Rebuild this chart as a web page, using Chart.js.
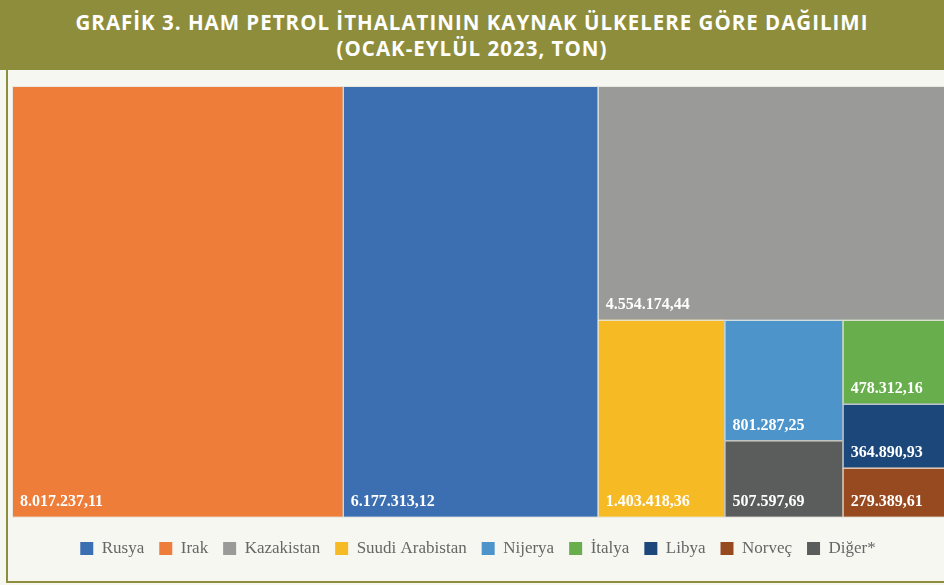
<!DOCTYPE html>
<html>
<head>
<meta charset="utf-8">
<script src="https://cdn.jsdelivr.net/npm/chart.js@4.4.0/dist/chart.umd.min.js"></script>
<style>
    html, body { margin: 0; padding: 0; background: #f7f7f2; }
    #title {
        position: absolute; left: 0; top: 0; width: 944px; height: 70px;
        background: #8e8d3b; color: #fff; text-align: center;
        font-family: "Open Sans", sans-serif; font-weight: 700; font-size: 20.5px;
        letter-spacing: 1px; line-height: 26px; padding-top: 9px; box-sizing: border-box;
    }
    #frame {
        position: absolute; left: 6px; top: 70px; width: 938px; height: 513px;
        border-left: 2px solid #8e8d3b; border-bottom: 2px solid #8e8d3b;
        box-sizing: border-box;
    }
    #wrap { position: absolute; left: 0; top: 0; width: 936px; height: 511px; }
</style>
</head>
<body>
<div id="title">GRAFİK 3. HAM PETROL İTHALATININ KAYNAK ÜLKELERE GÖRE DAĞILIMI<br>(OCAK-EYLÜL 2023, TON)</div>
<div id="frame"><div id="wrap"><canvas id="chart"></canvas></div></div>
<script>
/* treemap of crude oil import sources */

const countries = ["Irak", "Rusya", "Kazakistan", "Suudi Arabistan", "Nijerya", "Diğer*", "İtalya", "Libya", "Norveç"];
const tons = [8017237.11, 6177313.12, 4554174.44, 1403418.36, 801287.25, 507597.69, 478312.16, 364890.93, 279389.61];
const valueLabels = ["8.017.237,11", "6.177.313,12", "4.554.174,44", "1.403.418,36", "801.287,25", "507.597,69", "478.312,16", "364.890,93", "279.389,61"];
const legendOrder = ["Rusya", "Irak", "Kazakistan", "Suudi Arabistan", "Nijerya", "İtalya", "Libya", "Norveç", "Diğer*"];
const colors = {
    "Rusya": "#3c6fb1", "Irak": "#ef7d3a", "Kazakistan": "#9a9a98",
    "Suudi Arabistan": "#f6ba25", "Nijerya": "#4d94cb", "İtalya": "#69ae4d",
    "Libya": "#1c477a", "Norveç": "#974a20", "Diğer*": "#5b5d5c"
};

// squarified layout in a w x h box (units where area == value)
function squarify(values, x, y, w, h) {
    const out = [];
    let i = 0;
    function worst(row, side) {
        const s = row.reduce((a, b) => a + b, 0);
        let m = 0;
        row.forEach(function(v) {
            const r = Math.max(side * side * v / (s * s), (s * s) / (side * side * v));
            if (r > m) m = r;
        });
        return m;
    }
    while (i < values.length) {
        const side = Math.min(w, h);
        let row = [values[i]];
        let j = i + 1;
        while (j < values.length && worst(row.concat(values[j]), side) <= worst(row, side)) {
            row.push(values[j]);
            j++;
        }
        const s = row.reduce((a, b) => a + b, 0);
        if (w >= h) {
            const cw = s / h;
            let cy = y;
            row.forEach(function(v) { out.push({ x: x, y: cy, w: cw, h: v / cw }); cy += v / cw; });
            x += cw; w -= cw;
        } else {
            const ch = s / w;
            let cx = x;
            row.forEach(function(v) { out.push({ x: cx, y: y, w: v / ch, h: ch }); cx += v / ch; });
            y += ch; h -= ch;
        }
        i = j;
    }
    return out;
}

const treemapPlugin = {
    id: "treemap",
    afterDatasetsDraw(chart) {
        const ctx = chart.ctx;
        const area = chart.chartArea;
        const xs = chart.scales.x, ys = chart.scales.y;
        const aspect = (area.right - area.left) / (area.bottom - area.top);
        const total = tons.reduce((a, b) => a + b, 0);
        const scaled = tons.map(v => v / total * aspect);
        const rects = squarify(scaled, 0, 0, aspect, 1);
        ctx.save();
        rects.forEach(function(r, k) {
            const x0 = xs.getPixelForValue(r.x / aspect);
            const x1 = xs.getPixelForValue((r.x + r.w) / aspect);
            const y0 = ys.getPixelForValue(r.y);
            const y1 = ys.getPixelForValue(r.y + r.h);
            ctx.fillStyle = colors[countries[k]];
            ctx.fillRect(x0, y0, x1 - x0, y1 - y0);
            ctx.strokeStyle = "#e8e8e0";
            ctx.lineWidth = 1;
            ctx.strokeRect(x0 + 0.5, y0 + 0.5, x1 - x0, y1 - y0);
            ctx.fillStyle = "#ffffff";
            ctx.font = "bold 16px 'Liberation Serif', serif";
            ctx.textBaseline = "middle";
            ctx.textAlign = "left";
            ctx.fillText(valueLabels[k], x0 + 8, y1 - 15);
        });
        ctx.restore();
    }
};

new Chart(document.getElementById("chart"), {
    type: "scatter",
    data: { datasets: [{ data: [] }] },
    options: {
        responsive: true,
        maintainAspectRatio: false,
        animation: false,
        layout: { padding: { left: 4, right: 0, top: 16, bottom: 14 } },
        scales: {
            x: { type: "linear", min: 0, max: 1, display: false },
            y: { type: "linear", min: 0, max: 1, reverse: true, display: false }
        },
        plugins: {
            tooltip: { enabled: false },
            legend: {
                position: "bottom",
                onClick: null,
                title: { display: true, text: " ", font: { size: 1 }, padding: { top: 7, bottom: 0 } },
                labels: {
                    boxWidth: 13,
                    boxHeight: 13,
                    padding: 15,
                    color: "#595959",
                    font: { family: "'Liberation Serif', serif", size: 17 },
                    generateLabels: function() {
                        return legendOrder.map(function(name) {
                            return { text: name, fillStyle: colors[name], strokeStyle: colors[name], lineWidth: 0, hidden: false };
                        });
                    }
                }
            }
        }
    },
    plugins: [treemapPlugin]
});
</script>
</body>
</html>
